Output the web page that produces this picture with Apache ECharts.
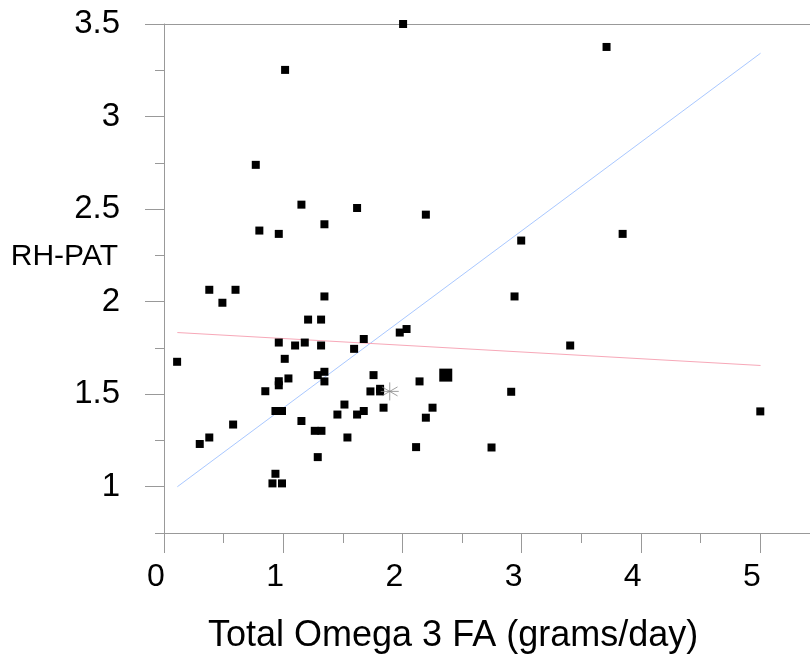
<!DOCTYPE html>
<html>
<head>
<meta charset="utf-8">
<script src="https://cdn.jsdelivr.net/npm/echarts@6/dist/echarts.min.js"></script>
<style>
	html, body { margin: 0; padding: 0; background: #fff; }
	#chart { width: 810px; height: 658px; }
</style>
</head>
<body>
<div id="chart"></div>
<script>
	// Total Omega 3 FA (grams/day) vs RH-PAT
	var omega3 = [0.11, 0.30, 0.38, 0.38, 0.49, 0.60, 0.58, 0.77, 0.80, 0.85,
		0.91, 0.935, 0.99, 0.935, 0.99, 0.963, 0.963, 0.963, 0.963, 1.016,
		1.013, 1.044, 1.10, 1.153, 1.153, 1.181, 1.209, 1.265, 1.321, 1.29,
		1.29, 1.318, 1.318, 1.346, 1.346, 1.346, 1.346, 1.455, 1.514, 1.539,
		1.595, 1.62, 1.62, 1.676, 1.676, 1.732, 1.758, 1.813, 1.813, 1.842,
		1.978, 2.035, 2.006, 2.115, 2.144, 2.197, 2.197, 2.253, 2.748, 2.913,
		2.941, 2.997, 3.408, 3.713, 3.848, 5.003];
	var rhpat = [1.675, 1.231, 1.266, 2.064, 1.994, 2.064, 1.336, 2.739, 2.384, 1.516,
		1.018, 1.07, 1.018, 1.409, 1.409, 2.366, 1.779, 1.570, 1.548, 3.252,
		1.691, 1.585, 1.763, 2.524, 1.355, 1.779, 1.903, 1.302, 1.302, 1.603,
		1.16, 1.903, 1.763, 2.418, 2.028, 1.621, 1.569, 1.39, 1.444, 1.266,
		1.745, 2.506, 1.39, 1.798, 1.409, 1.515, 1.603, 1.529, 1.515, 1.427,
		1.833, 1.852, 3.5, 1.214, 1.569, 2.47, 1.373, 1.427, 1.212, 1.513,
		2.028, 2.33, 1.763, 3.376, 2.366, 1.407];

	// highlighted point and mean marker
	var bigPoint = [2.364, 1.603];
	var meanPoint = [1.894, 1.515];

	// fit lines
	var fitX = [0.112, 5.005];
	var blueFitY = [1.0, 3.342];
	var redFitY = [1.833, 1.655];

	var xMajor = [0, 1, 2, 3, 4, 5];
	var xMinor = [0.5, 1.5, 2.5, 3.5, 4.5];
	var yMajor = [1, 1.5, 2, 2.5, 3, 3.5];
	var yMinor = [0.75, 1.25, 1.75, 2.25, 2.75, 3.25];

	var xMax = 5.42;
	var axisColor = '#999';
	var font = 'Liberation Sans, Arial, sans-serif';

	var points = omega3.map(function (x, i) { return [x, rhpat[i]]; });

	var chart = echarts.init(document.getElementById('chart'));
	chart.setOption({
		animation: false,
		backgroundColor: '#fff',
		grid: { left: 164, right: 0, top: 24, bottom: 125 },
		xAxis: [{
			type: 'value', min: 0, max: xMax, position: 'bottom',
			axisLine: { show: true, onZero: false, lineStyle: { color: axisColor } },
			axisTick: { show: true, inside: false, length: 20, customValues: xMajor, lineStyle: { color: axisColor } },
			axisLabel: {
				customValues: xMajor, margin: 28, color: '#000', fontSize: 32, fontFamily: font,
				padding: [0, 16, 0, 0]
			},
			splitLine: { show: false }
		}, {
			type: 'value', min: 0, max: xMax, position: 'bottom',
			axisLine: { show: false, onZero: false },
			axisTick: { show: true, length: 10, customValues: xMinor, lineStyle: { color: axisColor } },
			axisLabel: { show: false },
			splitLine: { show: false }
		}, {
			type: 'value', min: 0, max: xMax, position: 'top',
			axisLine: { show: true, onZero: false, lineStyle: { color: axisColor } },
			axisTick: { show: false },
			axisLabel: { show: false },
			splitLine: { show: false }
		}],
		yAxis: [{
			type: 'value', min: 0.75, max: 3.5, position: 'left',
			axisLine: { show: true, onZero: false, lineStyle: { color: axisColor } },
			axisTick: { show: true, length: 19, customValues: yMajor, lineStyle: { color: axisColor } },
			axisLabel: {
				customValues: yMajor, margin: 44, color: '#000', fontSize: 33, fontFamily: font
			},
			splitLine: { show: false }
		}, {
			type: 'value', min: 0.75, max: 3.5, position: 'left',
			axisLine: { show: false, onZero: false },
			axisTick: { show: true, length: 9, customValues: yMinor, lineStyle: { color: axisColor } },
			axisLabel: { show: false },
			splitLine: { show: false }
		}],
		graphic: [{
			type: 'text', x: 118, y: 257,
			style: { text: 'RH-PAT', fill: '#000', font: '30px ' + font, align: 'right', verticalAlign: 'middle' }
		}, {
			type: 'text', x: 208, y: 636,
			style: { text: 'Total Omega 3 FA (grams/day)', fill: '#000', font: '36px ' + font, align: 'left', verticalAlign: 'middle' }
		}],
		series: [{
			type: 'line',
			data: [[fitX[0], blueFitY[0]], [fitX[1], blueFitY[1]]],
			symbol: 'none',
			lineStyle: { color: '#a9c8ff', width: 1 },
			z: 1
		}, {
			type: 'line',
			data: [[fitX[0], redFitY[0]], [fitX[1], redFitY[1]]],
			symbol: 'none',
			lineStyle: { color: '#f7a8b8', width: 1 },
			z: 1
		}, {
			type: 'scatter',
			data: points,
			symbol: 'rect',
			symbolSize: 8,
			itemStyle: { color: '#000', opacity: 1 },
			z: 3
		}, {
			type: 'scatter',
			data: [bigPoint],
			symbol: 'rect',
			symbolSize: 13,
			itemStyle: { color: '#000', opacity: 1 },
			z: 3
		}, {
			type: 'scatter',
			data: [meanPoint],
			symbol: 'path://M0,-10L0,10M-8.66,-5L8.66,5M-8.66,5L8.66,-5M-10,0L10,0',
			symbolSize: 18,
			itemStyle: { color: 'none', borderColor: '#888', borderWidth: 1 },
			z: 4
		}]
	});
</script>
</body>
</html>
